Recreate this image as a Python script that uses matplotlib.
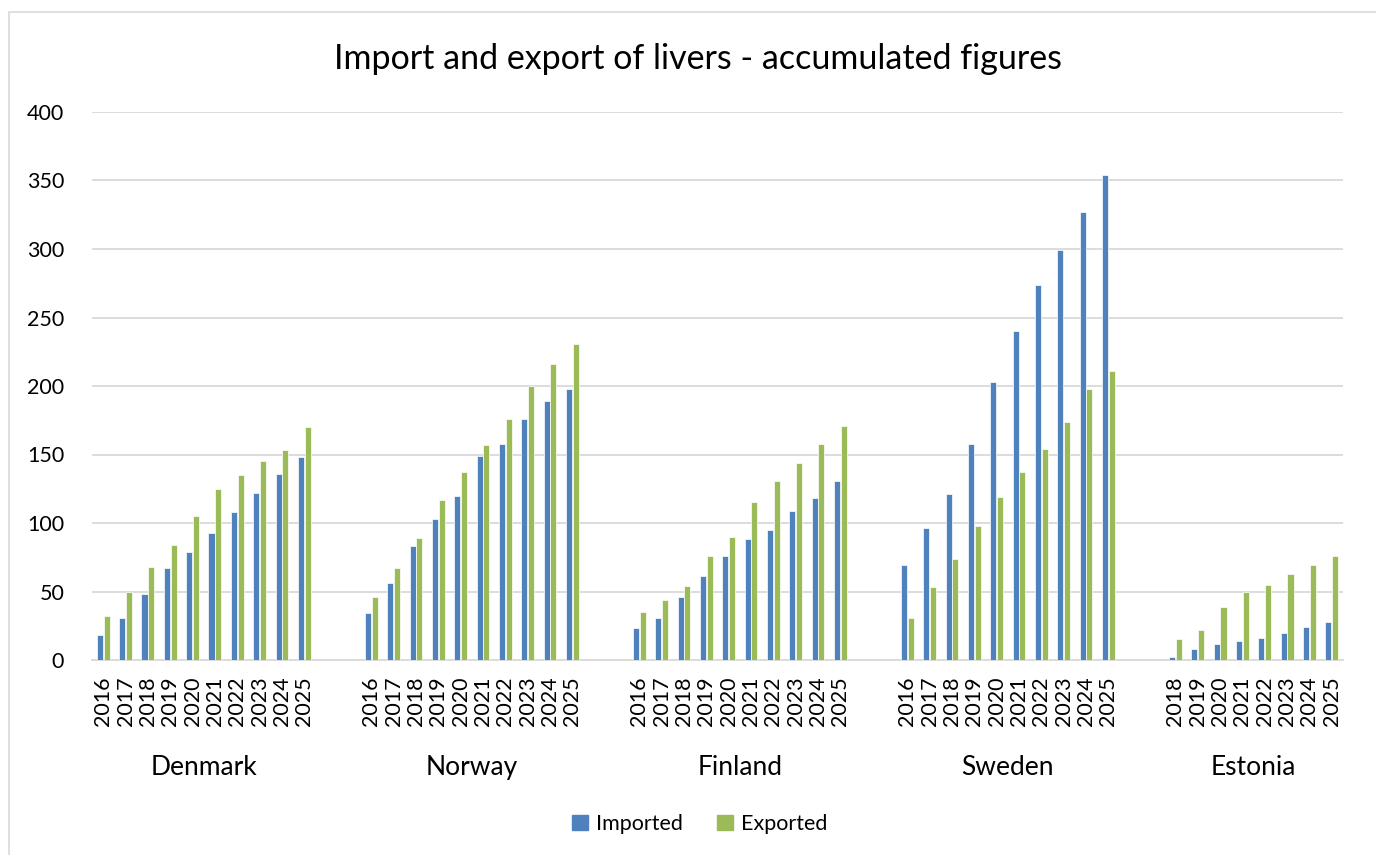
import matplotlib
matplotlib.use("Agg")
import matplotlib.pyplot as plt
from matplotlib.patches import Rectangle
import numpy as np

plt.rcParams['font.family'] = ['Lato', 'DejaVu Sans']

countries = ["Denmark", "Norway", "Finland", "Sweden", "Estonia"]

years_full = ["2016", "2017", "2018", "2019", "2020", "2021", "2022", "2023", "2024", "2025"]
years_estonia = ["2018", "2019", "2020", "2021", "2022", "2023", "2024", "2025"]

denmark_imported = [18, 31, 48, 67, 79, 93, 108, 122, 136, 148]
denmark_exported = [32, 50, 68, 84, 105, 125, 135, 145, 153, 170]

norway_imported = [34, 56, 83, 103, 120, 149, 158, 176, 189, 198]
norway_exported = [46, 67, 89, 117, 137, 157, 176, 200, 216, 231]

finland_imported = [23, 31, 46, 61, 76, 88, 95, 109, 118, 131]
finland_exported = [35, 44, 54, 76, 90, 115, 131, 144, 158, 171]

sweden_imported = [69, 96, 121, 158, 203, 240, 274, 299, 327, 354]
sweden_exported = [31, 53, 74, 98, 119, 137, 154, 174, 198, 211]

estonia_imported = [2, 8, 12, 14, 16, 20, 24, 28]
estonia_exported = [15, 22, 39, 50, 55, 63, 69, 76]

groups = [
    (years_full, denmark_imported, denmark_exported),
    (years_full, norway_imported, norway_exported),
    (years_full, finland_imported, finland_exported),
    (years_full, sweden_imported, sweden_exported),
    (years_estonia, estonia_imported, estonia_exported),
]

BLUE = "#4F81BD"
GREEN = "#9BBB59"
GRID = "#D9D9D9"
GAP_SLOTS = 2

fig = plt.figure(figsize=(13.76, 8.55), dpi=100)
ax = fig.add_axes([92 / 1376, 1 - 660 / 855, (1343 - 92) / 1376, (660 - 112) / 855])

# outer chart-area frame
fig.patches.append(Rectangle((9 / 1376, -0.05), 1.1, 1 - 12 / 855 + 0.05,
                             transform=fig.transFigure, fill=False,
                             edgecolor="#D9D9D9", linewidth=1.2, zorder=0))

bar_w = 0.27
offset = 0.15
tick_pos, tick_lab, group_centers = [], [], []
start = 0
for yrs, imp, exp in groups:
    x = start + np.arange(len(yrs))
    ax.bar(x - offset, imp, width=bar_w, color=BLUE, edgecolor="white", linewidth=0.5, zorder=3)
    ax.bar(x + offset, exp, width=bar_w, color=GREEN, edgecolor="white", linewidth=0.5, zorder=3)
    tick_pos.extend(x)
    tick_lab.extend(yrs)
    group_centers.append(x.mean())
    start += len(yrs) + GAP_SLOTS
n_slots = start - GAP_SLOTS

ax.set_xlim(-0.5, n_slots - 0.5)
ax.set_ylim(0, 400)
ax.set_yticks(np.arange(0, 401, 50))
ax.yaxis.grid(True, color=GRID, linewidth=1.3, zorder=0)
ax.set_axisbelow(True)
for side in ["top", "right", "left"]:
    ax.spines[side].set_visible(False)
ax.spines["bottom"].set_color(GRID)
ax.spines["bottom"].set_linewidth(1.3)
ax.tick_params(axis="y", length=0, pad=20, labelsize=15.5, labelcolor="#000000")
ax.set_xticks(tick_pos)
ax.set_xticklabels(tick_lab, rotation=90, fontsize=15.5)
ax.tick_params(axis="x", length=0, pad=12)

trans = matplotlib.transforms.blended_transform_factory(ax.transData, fig.transFigure)
for name, cx in zip(countries, group_centers):
    ax.text(cx, 1 - 767 / 855, name, transform=trans, ha="center", va="center", fontsize=19)

fig.text(698 / 1376, 1 - 59 / 855, "Import and export of livers - accumulated figures",
         ha="center", va="center", fontsize=24.5)

handles = [Rectangle((0, 0), 1, 1, color=BLUE), Rectangle((0, 0), 1, 1, color=GREEN)]
fig.legend(handles, ["Imported", "Exported"], loc="center", bbox_to_anchor=(700 / 1376, 1 - 824 / 855),
           ncol=2, frameon=False, fontsize=15.5, handlelength=0.7, handleheight=0.7,
           handletextpad=0.4, columnspacing=1.6)

fig.savefig("out.png", dpi=100, facecolor="white")
